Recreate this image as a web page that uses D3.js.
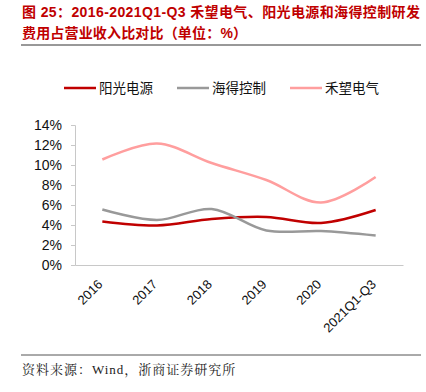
<!DOCTYPE html>
<html>
<head>
<meta charset="utf-8">
<script src="https://cdn.jsdelivr.net/npm/d3@7"></script>
<style>
  body { margin: 0; background: #fff; }
  svg { display: block; }
</style>
</head>
<body>
<div id="chart"></div>
<script>
const categories = ["2016", "2017", "2018", "2019", "2020", "2021Q1-Q3"];
const sungrow = [4.35, 3.95, 4.6, 4.8, 4.2, 5.5];    // 阳光电源
const hite = [5.55, 4.5, 5.6, 3.45, 3.4, 2.95];      // 海得控制
const hopewind = [10.55, 12.15, 10.2, 8.5, 6.25, 8.8]; // 禾望电气
const yTicks = [0, 2, 4, 6, 8, 10, 12, 14];

const series = [
  { name: "阳光电源", values: sungrow, color: "#c00000" },
  { name: "海得控制", values: hite, color: "#999999" },
  { name: "禾望电气", values: hopewind, color: "#ff9e9e" }
];

const width = 426, height = 392;
const sans = "'Liberation Sans', Arial, 'Noto Sans CJK SC', sans-serif";
const margin = { top: 125, right: 23, bottom: 127, left: 75 };
const innerW = width - margin.left - margin.right;
const innerH = height - margin.top - margin.bottom;

const svg = d3.select("#chart").append("svg")
  .attr("width", width)
  .attr("height", height);

// title
const title = svg.append("g")
  .attr("fill", "#c00000")
  .attr("font-family", sans)
  .attr("font-weight", "bold")
  .attr("font-size", 14);
title.append("text").attr("x", 22).attr("y", 17)
  .attr("textLength", 398).attr("lengthAdjust", "spacing")
  .text("图 25：2016-2021Q1-Q3 禾望电气、阳光电源和海得控制研发");
title.append("text").attr("x", 22).attr("y", 38)
  .attr("textLength", 225).attr("lengthAdjust", "spacing")
  .text("费用占营业收入比对比（单位：%）");

svg.append("line")
  .attr("x1", 21).attr("x2", 421).attr("y1", 45).attr("y2", 45)
  .attr("stroke", "#333").attr("stroke-width", 1);

// legend
const legendX = [64, 177, 290];
const legend = svg.append("g").attr("font-family", "'Noto Sans CJK SC', sans-serif").attr("font-size", 13.5);
series.forEach((s, i) => {
  const g = legend.append("g").attr("transform", `translate(${legendX[i]}, 88)`);
  g.append("line").attr("x1", 0).attr("x2", 32).attr("stroke", s.color).attr("stroke-width", 2.5);
  g.append("text").attr("x", 35).attr("y", 0).attr("dy", "0.36em").attr("fill", "#111").text(s.name);
});

const root = svg.append("g").attr("transform", `translate(${margin.left}, ${margin.top})`);

const x = d3.scaleBand().domain(categories).range([0, innerW]);
const y = d3.scaleLinear().domain([0, 14]).range([innerH, 0]);

// axes
root.append("g")
  .call(d3.axisLeft(y).tickValues(yTicks).tickSize(4).tickPadding(9).tickFormat((d) => d + "%"))
  .call((g) => g.selectAll(".domain").attr("stroke", "#c8c8c8"))
  .call((g) => g.selectAll("line").attr("stroke", "#c8c8c8"))
  .call((g) => g.selectAll("text").attr("fill", "#111").attr("font-size", 14).attr("font-family", sans));

root.append("g")
  .attr("transform", `translate(0, ${innerH})`)
  .call(d3.axisBottom(x).tickSize(0).tickSizeOuter(0))
  .call((g) => g.selectAll(".domain").attr("stroke", "#c8c8c8"))
  .call((g) => g.selectAll("text")
    .attr("fill", "#111").attr("font-size", 13).attr("font-family", sans)
    .attr("text-anchor", "end")
    .attr("dy", null)
    .attr("transform", "translate(-1, 18) rotate(-45)"));

// lines
const line = d3.line()
  .x((d, i) => x(categories[i]) + x.bandwidth() / 2)
  .y((d) => y(d))
  .curve(d3.curveCatmullRom.alpha(0.5));

root.selectAll("path.series")
  .data(series)
  .enter()
  .append("path")
  .attr("class", "series")
  .attr("fill", "none")
  .attr("stroke", (d) => d.color)
  .attr("stroke-width", 2.5)
  .attr("d", (d) => line(d.values));

// source
svg.append("line")
  .attr("x1", 21).attr("x2", 421).attr("y1", 355).attr("y2", 355)
  .attr("stroke", "#555").attr("stroke-width", 1);
svg.append("text")
  .attr("x", 22).attr("y", 374)
  .attr("font-family", "'Liberation Serif', 'Noto Serif CJK SC', 'Noto Sans CJK SC', serif")
  .attr("font-size", 13)
  .attr("letter-spacing", 1)
  .attr("fill", "#222")
  .text("资料来源：Wind，浙商证券研究所");
</script>
</body>
</html>
